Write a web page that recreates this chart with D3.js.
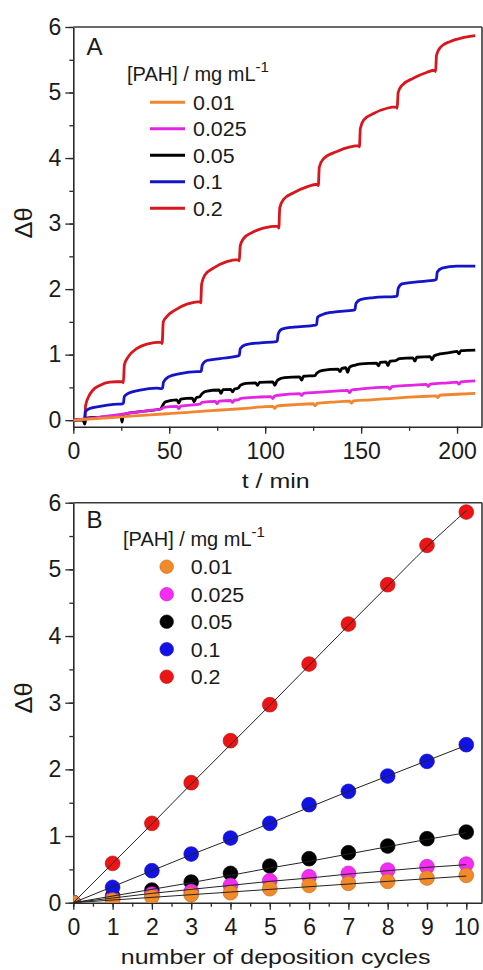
<!DOCTYPE html>
<html>
<head>
<meta charset="utf-8">
<script src="https://cdn.jsdelivr.net/npm/d3@7"></script>
<style>
  html, body { margin: 0; padding: 0; background: #fff; }
  svg { display: block; }
  text { font-family: "Liberation Sans", Arial, sans-serif; fill: #1a1a1a; }
</style>
</head>
<body>
<svg id="chart" width="483" height="970"></svg>
<script>
// ---------- data ----------
const concentrations = ["0.01", "0.025", "0.05", "0.1", "0.2"];
const seriesColors   = ["#f0862e", "#e326e3", "#000000", "#1414c8", "#d8161e"];
const dotColors      = ["#f28a2a", "#f42cf4", "#000000", "#1212e6", "#ec1414"];

// Panel A: Δθ vs time [t (min), Δθ]
const kineticsOrange = [[0,0],[10,0.02],[20,0.04],[30,0.06],[40,0.08],[50,0.10],[60,0.12],[70,0.14],[80,0.16],[90,0.18],[100,0.205],[104,0.21],[105,0.18],[106,0.215],[115,0.235],[125,0.25],[126,0.22],[127,0.255],[135,0.275],[144,0.29],[145,0.26],[146,0.295],[155,0.31],[165,0.33],[175,0.35],[185,0.365],[189,0.37],[190,0.345],[191,0.38],[200,0.395],[209.5,0.41]];
const kineticsMagenta = [[0,0],[10,0.03],[20,0.07],[30,0.11],[40,0.15],[46,0.17],[47,0.195],[54,0.21],[55,0.175],[56,0.215],[66,0.245],[67,0.27],[74,0.285],[75,0.25],[76,0.29],[82,0.30],[83,0.27],[84,0.305],[86,0.31],[87,0.33],[96,0.35],[103,0.36],[104,0.33],[105,0.37],[107,0.38],[118,0.405],[119,0.375],[120,0.41],[127,0.425],[140,0.45],[143,0.455],[144,0.42],[145,0.46],[148,0.47],[160,0.50],[164,0.505],[165,0.475],[166,0.51],[175,0.53],[184,0.545],[185,0.515],[186,0.55],[195,0.57],[200,0.58],[201,0.55],[202,0.585],[209.5,0.60]];
const kineticsBlack = [[0,0],[5,0.01],[6,-0.06],[6.6,0.03],[15,0.045],[24.8,0.07],[25.4,-0.03],[26,0.07],[27.5,0.10],[35,0.13],[45.5,0.17],[46.5,0.22],[48,0.28],[54,0.31],[55,0.26],[56,0.32],[62,0.335],[63,0.28],[64,0.34],[66,0.36],[67,0.40],[69,0.44],[76,0.46],[77,0.41],[78,0.465],[82,0.47],[83,0.43],[84,0.475],[86,0.49],[87,0.53],[90,0.56],[95,0.57],[96,0.53],[97,0.575],[104,0.585],[105,0.53],[106,0.59],[107,0.62],[110,0.65],[118,0.66],[119,0.61],[120,0.67],[126,0.68],[127,0.72],[130,0.76],[138,0.78],[139,0.74],[140,0.79],[142,0.80],[143,0.73],[144,0.81],[147,0.84],[150,0.86],[158,0.87],[159,0.83],[160,0.88],[163,0.89],[164,0.83],[165,0.90],[168,0.91],[170,0.94],[177,0.95],[178,0.90],[179,0.96],[186,0.97],[187,0.92],[188,0.98],[191,1.01],[196,1.03],[200,1.05],[201,1.01],[202,1.06],[209.5,1.07]];
const kineticsBlue = [[0,0],[5.8,0.01],[6.3,0.13],[8.7,0.18],[13.9,0.21],[20.9,0.24],[25.6,0.25],[26.1,0.26],[26.6,0.36],[28.7,0.41],[34.8,0.46],[43.5,0.49],[46.0,0.48],[46.5,0.49],[47.0,0.58],[49.6,0.66],[55.7,0.71],[64.4,0.74],[66.2,0.74],[66.7,0.75],[67.2,0.84],[69.6,0.91],[76.5,0.94],[86.0,0.98],[86.5,0.99],[87.0,1.09],[89.6,1.15],[97.4,1.18],[105.8,1.20],[106.3,1.21],[106.8,1.32],[108.7,1.39],[114.8,1.42],[126.3,1.45],[126.8,1.46],[127.3,1.57],[129.6,1.61],[135.6,1.65],[146.3,1.68],[146.8,1.69],[147.3,1.78],[149.6,1.84],[156.5,1.87],[168.3,1.89],[168.8,1.90],[169.3,2.01],[171.3,2.08],[179.1,2.11],[188.7,2.14],[189.2,2.15],[189.7,2.26],[192.2,2.32],[200,2.35],[209.5,2.35]];
const kineticsRed = [[0,0],[3,0.01],[5.6,0.0],[6.0,-0.05],[6.4,0.22],[8,0.36],[10.3,0.46],[13.8,0.53],[19,0.58],[25.6,0.59],[26.1,0.57],[26.6,0.84],[28.7,0.97],[33,1.09],[38.3,1.16],[45.8,1.19],[46.3,1.17],[46.9,1.50],[48.7,1.58],[53,1.68],[59.2,1.77],[65.9,1.81],[66.4,1.79],[66.9,2.08],[68.7,2.22],[73,2.32],[80,2.42],[86.0,2.45],[86.5,2.43],[87.0,2.66],[88.7,2.77],[93,2.86],[99,2.93],[106.6,2.96],[107.1,2.93],[107.6,3.24],[109.6,3.37],[114.8,3.47],[121.7,3.56],[127.2,3.60],[127.7,3.58],[128.2,3.86],[130.4,3.99],[137.4,4.10],[144.3,4.17],[148.6,4.19],[149.1,4.17],[149.6,4.45],[151.3,4.58],[156.5,4.68],[163.5,4.76],[168.3,4.78],[168.8,4.76],[169.3,5.00],[171.3,5.11],[177.4,5.22],[184.4,5.31],[188.3,5.34],[188.8,5.32],[189.3,5.57],[191.3,5.69],[196.5,5.78],[203.4,5.84],[209.5,5.87]];
const kinetics = [kineticsOrange, kineticsMagenta, kineticsBlack, kineticsBlue, kineticsRed];

// Panel B: Δθ after each deposition cycle (cycle 0 … 10)
const cycles = [0, 1, 2, 3, 4, 5, 6, 7, 8, 9, 10];
const cycleOrange  = [0, 0.04, 0.09, 0.12, 0.15, 0.21, 0.26, 0.29, 0.32, 0.37, 0.41];
const cycleMagenta = [0, 0.07, 0.13, 0.17, 0.26, 0.33, 0.39, 0.44, 0.49, 0.54, 0.58];
const cycleBlack   = [0, 0.10, 0.19, 0.31, 0.44, 0.55, 0.66, 0.75, 0.85, 0.96, 1.06];
const cycleBlue    = [0, 0.23, 0.48, 0.73, 0.97, 1.19, 1.47, 1.67, 1.90, 2.12, 2.37];
const cycleRed     = [0, 0.59, 1.19, 1.80, 2.43, 2.97, 3.58, 4.18, 4.77, 5.36, 5.86];
const cycleValues  = [cycleOrange, cycleMagenta, cycleBlack, cycleBlue, cycleRed];

// fitted trend through each cycle series
const fitOrange  = [0, 0.04, 0.08, 0.12, 0.16, 0.20, 0.24, 0.28, 0.32, 0.36, 0.40];
const fitMagenta = [0, 0.07, 0.14, 0.20, 0.26, 0.32, 0.37, 0.43, 0.48, 0.53, 0.57];
const fitBlack   = [0, 0.10, 0.20, 0.30, 0.41, 0.52, 0.62, 0.73, 0.84, 0.95, 1.05];
const fitBlue    = [0, 0.24, 0.48, 0.72, 0.95, 1.19, 1.43, 1.67, 1.90, 2.13, 2.36];
const fitRed     = [0, 0.59, 1.18, 1.78, 2.37, 2.96, 3.56, 4.16, 4.75, 5.34, 5.88];
const fitValues  = [fitOrange, fitMagenta, fitBlack, fitBlue, fitRed];

const yTicks = [0, 1, 2, 3, 4, 5, 6];
const tTicks = [0, 50, 100, 150, 200];
const cycleTicks = [0, 1, 2, 3, 4, 5, 6, 7, 8, 9, 10];

// ---------- layout ----------
const svg = d3.select("#chart");
const left = 73.3, right = 482;
const panelA = { top: 27, bottom: 426.7 };
const panelB = { top: 502.7, bottom: 902.7 };

const xA = d3.scaleLinear().domain([0, 213]).range([left, right]);
const yA = d3.scaleLinear().domain([-0.1, 6]).range([panelA.bottom, panelA.top]);
const xB = d3.scaleLinear().domain([0, 10.4]).range([left, right]);
const yB = d3.scaleLinear().domain([0, 6]).range([panelB.bottom, panelB.top]);

const tickFont = 23;

function drawFrame(x, y, top, bottom, xTicks, xMinor, yMinor, xTitle, xTitleY, yTitleY, letter, letterY) {
  const g = svg.append("g");
  // minor ticks
  g.append("g").attr("transform", `translate(0,${bottom})`)
    .call(d3.axisBottom(x).tickValues(xMinor).tickSize(4).tickFormat(""))
    .call(s => s.select(".domain").remove());
  g.append("g").attr("transform", `translate(${left},0)`)
    .call(d3.axisLeft(y).tickValues(yMinor).tickSize(4).tickFormat(""))
    .call(s => s.select(".domain").remove());
  // major ticks + labels
  const ax = g.append("g").attr("transform", `translate(0,${bottom})`)
    .call(d3.axisBottom(x).tickValues(xTicks).tickSize(7).tickPadding(9).tickSizeOuter(0).tickFormat(d3.format("d")));
  const ay = g.append("g").attr("transform", `translate(${left},0)`)
    .call(d3.axisLeft(y).tickValues(yTicks).tickSize(8).tickPadding(4).tickSizeOuter(0).tickFormat(d3.format("d")));
  [ax, ay].forEach(a => {
    a.selectAll("text").attr("font-size", tickFont).attr("fill", "#1a1a1a")
      .style("font-family", '"Liberation Sans", Arial, sans-serif');
    a.select(".domain").attr("stroke", "#2a2a2a").attr("stroke-width", 1.6);
  });
  g.selectAll("line").attr("stroke", "#2a2a2a").attr("stroke-width", 1.3);
  // frame top / right
  g.append("line").attr("x1", left).attr("x2", right).attr("y1", top).attr("y2", top)
    .attr("stroke", "#3a3a3a").attr("stroke-width", 1.6);
  g.append("line").attr("x1", right).attr("x2", right).attr("y1", top).attr("y2", bottom)
    .attr("stroke", "#3a3a3a").attr("stroke-width", 1.6);
  // titles (slightly wide lettering)
  g.append("text").attr("transform", `translate(${(left + right) / 2 - 2},${xTitleY}) scale(1.19,1)`)
    .attr("text-anchor", "middle").attr("font-size", 21).text(xTitle);
  g.append("text").attr("transform", `translate(32,${yTitleY}) rotate(-90) scale(1.1,1)`)
    .attr("text-anchor", "middle").attr("font-size", 23).text("Δθ");
  g.append("text").attr("x", 86.5).attr("y", letterY).attr("font-size", 24).text(letter);
}

drawFrame(xA, yA, panelA.top, panelA.bottom, tTicks, d3.range(0, 213, 25), d3.range(0, 6.01, 0.5),
  "t / min", 488, 223, "A", 55);
drawFrame(xB, yB, panelB.top, panelB.bottom, cycleTicks, d3.range(0, 10.41, 0.5), d3.range(0, 6.01, 0.5),
  "number of deposition cycles", 964, 698, "B", 528);

// ---------- panel A curves ----------
svg.append("clipPath").attr("id", "clipA").append("rect")
  .attr("x", left).attr("y", panelA.top).attr("width", right - left).attr("height", panelA.bottom - panelA.top);
const lineA = d3.line().x(d => xA(d[0])).y(d => yA(d[1])).curve(d3.curveMonotoneX);
const gA = svg.append("g").attr("clip-path", "url(#clipA)");
[4, 3, 2, 1, 0].forEach(i => {
  gA.append("path").attr("d", lineA(kinetics[i])).attr("fill", "none")
    .attr("stroke", seriesColors[i]).attr("stroke-width", 2.8).attr("stroke-linejoin", "round");
});

// ---------- panel B dots + fits ----------
svg.append("clipPath").attr("id", "clipB").append("rect")
  .attr("x", left).attr("y", panelB.top - 10).attr("width", right - left + 10).attr("height", panelB.bottom - panelB.top + 10);
const gB = svg.append("g").attr("clip-path", "url(#clipB)");
[2, 1, 4, 3, 0].forEach(i => {
  gB.selectAll(null).data(cycles).enter().append("circle")
    .attr("cx", c => xB(c)).attr("cy", (c, k) => yB(cycleValues[i][k])).attr("r", 7.4)
    .attr("fill", dotColors[i]).attr("stroke", d3.color(dotColors[i]).darker(0.8)).attr("stroke-width", 0.6);
});
const lineB = d3.line().x((v, k) => xB(cycles[k])).y(v => yB(v)).curve(d3.curveMonotoneX);
fitValues.forEach(f => {
  gB.append("path").attr("d", lineB(f)).attr("fill", "none").attr("stroke", "#222").attr("stroke-width", 1);
});

// ---------- legends ----------
function legendTitle(x, y) {
  const t = svg.append("text").attr("x", x).attr("y", y).attr("font-size", 20);
  t.append("tspan").text("[PAH] / mg mL");
  t.append("tspan").attr("dy", -9).attr("font-size", 15).text("-1");
}
legendTitle(127, 81);
concentrations.forEach((c, i) => {
  const y = 102.3 + i * 26.5;
  svg.append("line").attr("x1", 150).attr("x2", 185).attr("y1", y).attr("y2", y)
    .attr("stroke", seriesColors[i]).attr("stroke-width", 3);
  svg.append("text").attr("transform", `translate(193,${y + 7.5}) scale(1.07,1)`).attr("font-size", 20).text(c);
});
legendTitle(123, 546);
concentrations.forEach((c, i) => {
  const y = 566.7 + i * 27.5;
  svg.append("circle").attr("cx", 166.7).attr("cy", y).attr("r", 6.8)
    .attr("fill", dotColors[i]).attr("stroke", d3.color(dotColors[i]).darker(0.8)).attr("stroke-width", 0.6);
  svg.append("text").attr("transform", `translate(190.7,${y + 7.5}) scale(1.07,1)`).attr("font-size", 20).text(c);
});
</script>
</body>
</html>
